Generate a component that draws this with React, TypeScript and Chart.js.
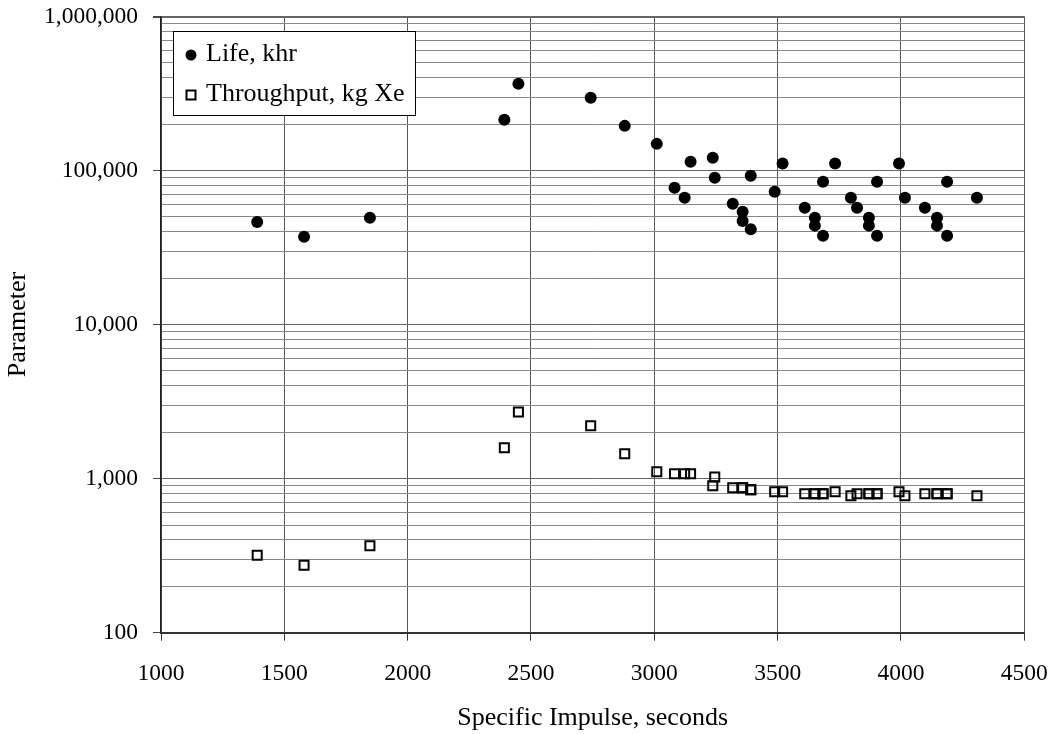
import React, { useEffect, useRef } from "react";
import { Chart, registerables } from "chart.js";

Chart.register(...registerables);

// Specific impulse (s) of each thruster design point
const ispSeconds = [
  1390, 1580, 1847, 2392, 2449, 2742, 2880, 3010, 3082, 3123, 3147, 3237, 3245, 3318, 3358, 3358, 3391, 3391, 3488, 3520,
  3610, 3651, 3651, 3684, 3684, 3733, 3797, 3822, 3870, 3870, 3903, 3903, 3992, 4016, 4097, 4146, 4146, 4187, 4187, 4308,
];

// Life, khr
const lifeKhr = [
  46300, 37200, 49400, 214000, 366000, 297000, 195000, 149000, 77400, 66600, 114000, 121000, 89900, 60900, 54100, 47000, 92600, 41600, 72900, 111000,
  57400, 49400, 43900, 37800, 84700, 111000, 66600, 57400, 49400, 43900, 37800, 84700, 111000, 66600, 57400, 49400, 43900, 37800, 84700, 66600,
];

// Throughput, kg Xe
const throughputKg = [
  318, 274, 367, 1586, 2711, 2203, 1452, 1110, 1076, 1076, 1076, 900, 1025, 873, 873, 873, 847, 847, 823, 823,
  798, 798, 798, 798, 798, 823, 775, 798, 798, 798, 798, 798, 823, 775, 798, 798, 798, 798, 798, 775,
];

const seriesLabels = ["Life, khr", "Throughput, kg Xe"];
const xTickValues = [1000, 1500, 2000, 2500, 3000, 3500, 4000, 4500];
const yDecades = [100, 1000, 10000, 100000, 1000000];
const yMinorMultipliers = [1, 2, 3, 4, 5, 6, 7, 8, 9];
const xAxisTitle = "Specific Impulse, seconds";
const yAxisTitle = "Parameter";

const FONT = '"Liberation Serif", "Times New Roman", serif';

const isDecade = (v: number) => Math.abs(Math.log10(v) - Math.round(Math.log10(v))) < 1e-9;

const yTickValues: number[] = [];
yDecades.forEach((d, i) => {
  if (i === yDecades.length - 1) {
    yTickValues.push(d);
  } else {
    yMinorMultipliers.forEach((m) => yTickValues.push(d * m));
  }
});

const zeroPadding = (scale: any) => {
  scale.paddingTop = 0;
  scale.paddingBottom = 0;
  scale.paddingLeft = 0;
  scale.paddingRight = 0;
};

const boxLegend = {
  id: "boxLegend",
  afterDraw(chart: any) {
    const { ctx, chartArea } = chart;
    const x0 = chartArea.left + 12;
    const y0 = chartArea.top + 14.5;
    const w = 242;
    const h = 84;
    ctx.save();
    ctx.fillStyle = "#ffffff";
    ctx.fillRect(x0, y0, w, h);
    ctx.strokeStyle = "#000000";
    ctx.lineWidth = 1;
    ctx.strokeRect(x0 + 0.5, y0 + 0.5, w, h);
    const rows = [y0 + 24, y0 + 64];
    ctx.fillStyle = "#000";
    ctx.beginPath();
    ctx.arc(x0 + 18, rows[0], 5.5, 0, Math.PI * 2);
    ctx.fill();
    ctx.lineWidth = 2;
    ctx.strokeRect(x0 + 13.5, rows[1] - 4.5, 9, 9);
    ctx.font = `26px ${FONT}`;
    ctx.textBaseline = "middle";
    ctx.textAlign = "left";
    ctx.fillText(chart.data.datasets[0].label, x0 + 33, rows[0] - 0.5);
    ctx.fillText(chart.data.datasets[1].label, x0 + 33, rows[1] - 0.5);
    ctx.restore();
  },
};

export default function App() {
  const canvasRef = useRef<HTMLCanvasElement | null>(null);

  useEffect(() => {
    const canvas = canvasRef.current;
    if (!canvas) return;
    const chart = new Chart(canvas, {
      type: "scatter",
      data: {
        datasets: [
          {
            label: seriesLabels[0],
            data: ispSeconds.map((x, i) => ({ x, y: lifeKhr[i] })),
            pointStyle: "circle",
            pointRadius: 6,
            backgroundColor: "#000",
            borderColor: "#000",
            borderWidth: 0,
          },
          {
            label: seriesLabels[1],
            data: ispSeconds.map((x, i) => ({ x, y: throughputKg[i] })),
            pointStyle: "rect",
            pointRadius: 6.4,
            backgroundColor: "rgba(0,0,0,0)",
            borderColor: "#000",
            borderWidth: 2,
          },
        ],
      },
      options: {
        responsive: false,
        animation: false,
        devicePixelRatio: 1,
        layout: { padding: { top: 16.5, right: 28.7, left: 0, bottom: 0 } },
        plugins: { legend: { display: false }, tooltip: { enabled: false } },
        scales: {
          x: {
            type: "linear",
            min: 1000,
            max: 4500,
            afterBuildTicks: (scale: any) => {
              scale.ticks = xTickValues.map((v) => ({ value: v }));
            },
            afterFit: (scale: any) => {
              scale.height = 101.3;
              zeroPadding(scale);
            },
            ticks: {
              autoSkip: false,
              maxRotation: 0,
              padding: 19,
              color: "#000",
              font: { family: FONT, size: 23.5 },
              callback: (v: any) => String(v),
            },
            grid: {
              color: "#555",
              lineWidth: 1,
              tickLength: 8,
              tickColor: "#333",
            },
            border: { display: true, color: "#333", width: 2 },
            title: {
              display: true,
              text: xAxisTitle,
              color: "#000",
              font: { family: FONT, size: 26 },
              padding: { top: 0, bottom: 0 },
            },
          },
          y: {
            type: "logarithmic",
            min: 100,
            max: 1000000,
            afterBuildTicks: (scale: any) => {
              scale.ticks = yTickValues.map((v) => ({ value: v, major: false }));
            },
            afterFit: (scale: any) => {
              scale.width = 161;
              zeroPadding(scale);
            },
            ticks: {
              autoSkip: false,
              padding: 15,
              color: "#000",
              font: { family: FONT, size: 23.5 },
              callback: (v: any) => (isDecade(Number(v)) ? Number(v).toLocaleString("en-US") : ""),
            },
            grid: {
              color: (c: any) => (c.tick && isDecade(c.tick.value) ? "#666" : "#888"),
              lineWidth: (c: any) => (c.tick && c.tick.value >= 1000000 ? 2 : 1),
              tickLength: 8,
              tickColor: (c: any) => (c.tick && isDecade(c.tick.value) ? "#444" : "rgba(0,0,0,0)"),
            },
            border: { display: true, color: "#222", width: 1.5 },
            title: {
              display: true,
              text: yAxisTitle,
              color: "#000",
              font: { family: FONT, size: 26 },
              padding: { top: 2.5, bottom: 0 },
            },
          },
        },
      },
      plugins: [boxLegend],
    } as any);
    return () => chart.destroy();
  }, []);

  return (
    <div style={{ position: "absolute", left: 0, top: 0, width: 1053, height: 734, background: "#fff" }}>
      <canvas ref={canvasRef} width={1053} height={734} />
    </div>
  );
}
